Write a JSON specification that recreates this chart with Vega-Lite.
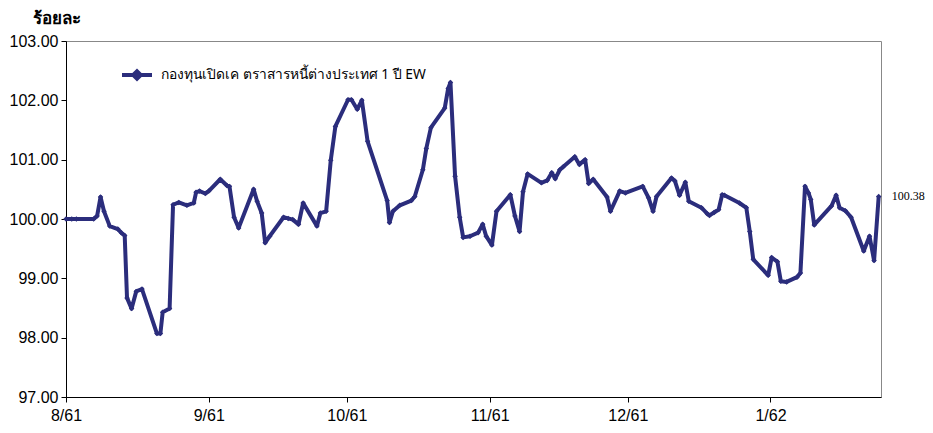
{
  "$schema": "https://vega.github.io/schema/vega-lite/v6.json",
  "autosize": "none",
  "width": 815,
  "height": 356,
  "padding": {"left": 66, "top": 41, "right": 52, "bottom": 36},
  "background": "white",
  "config": {
    "view": {"stroke": "#888888", "strokeWidth": 1},
    "font": "Liberation Sans"
  },
  "data": {
    "values": [
      {"date": "2018-08-01T00:00:00Z", "value": 100.00},
      {"date": "2018-08-02T06:00:00Z", "value": 100.00},
      {"date": "2018-08-03T06:00:00Z", "value": 100.00},
      {"date": "2018-08-07T00:00:00Z", "value": 100.00},
      {"date": "2018-08-07T18:00:00Z", "value": 100.05},
      {"date": "2018-08-08T12:00:00Z", "value": 100.37},
      {"date": "2018-08-09T06:00:00Z", "value": 100.13},
      {"date": "2018-08-10T12:00:00Z", "value": 99.88},
      {"date": "2018-08-12T06:00:00Z", "value": 99.83},
      {"date": "2018-08-13T00:00:00Z", "value": 99.77},
      {"date": "2018-08-13T18:00:00Z", "value": 99.72},
      {"date": "2018-08-14T06:00:00Z", "value": 98.67},
      {"date": "2018-08-15T06:00:00Z", "value": 98.49},
      {"date": "2018-08-16T06:00:00Z", "value": 98.78},
      {"date": "2018-08-17T12:00:00Z", "value": 98.82},
      {"date": "2018-08-20T18:00:00Z", "value": 98.07},
      {"date": "2018-08-21T12:00:00Z", "value": 98.07},
      {"date": "2018-08-22T00:00:00Z", "value": 98.43},
      {"date": "2018-08-23T12:00:00Z", "value": 98.49},
      {"date": "2018-08-24T06:00:00Z", "value": 100.24},
      {"date": "2018-08-25T12:00:00Z", "value": 100.28},
      {"date": "2018-08-27T06:00:00Z", "value": 100.23},
      {"date": "2018-08-28T18:00:00Z", "value": 100.27},
      {"date": "2018-08-29T06:00:00Z", "value": 100.45},
      {"date": "2018-08-30T00:00:00Z", "value": 100.47},
      {"date": "2018-08-31T06:00:00Z", "value": 100.43},
      {"date": "2018-09-01T00:00:00Z", "value": 100.47},
      {"date": "2018-09-03T12:00:00Z", "value": 100.67},
      {"date": "2018-09-05T00:00:00Z", "value": 100.56},
      {"date": "2018-09-05T12:00:00Z", "value": 100.55},
      {"date": "2018-09-06T12:00:00Z", "value": 100.03},
      {"date": "2018-09-07T12:00:00Z", "value": 99.85},
      {"date": "2018-09-10T18:00:00Z", "value": 100.50},
      {"date": "2018-09-11T12:00:00Z", "value": 100.30},
      {"date": "2018-09-12T12:00:00Z", "value": 100.10},
      {"date": "2018-09-13T06:00:00Z", "value": 99.60},
      {"date": "2018-09-14T06:00:00Z", "value": 99.71},
      {"date": "2018-09-17T06:00:00Z", "value": 100.03},
      {"date": "2018-09-18T06:00:00Z", "value": 100.01},
      {"date": "2018-09-19T06:00:00Z", "value": 99.99},
      {"date": "2018-09-20T12:00:00Z", "value": 99.91},
      {"date": "2018-09-21T12:00:00Z", "value": 100.27},
      {"date": "2018-09-24T12:00:00Z", "value": 99.88},
      {"date": "2018-09-25T06:00:00Z", "value": 100.10},
      {"date": "2018-09-26T12:00:00Z", "value": 100.13},
      {"date": "2018-09-27T12:00:00Z", "value": 100.99},
      {"date": "2018-09-28T12:00:00Z", "value": 101.56},
      {"date": "2018-10-01T06:00:00Z", "value": 102.01},
      {"date": "2018-10-02T00:00:00Z", "value": 102.01},
      {"date": "2018-10-03T06:00:00Z", "value": 101.85},
      {"date": "2018-10-04T06:00:00Z", "value": 102.00},
      {"date": "2018-10-05T12:00:00Z", "value": 101.31},
      {"date": "2018-10-09T18:00:00Z", "value": 100.31},
      {"date": "2018-10-10T06:00:00Z", "value": 99.94},
      {"date": "2018-10-11T00:00:00Z", "value": 100.13},
      {"date": "2018-10-12T12:00:00Z", "value": 100.23},
      {"date": "2018-10-15T00:00:00Z", "value": 100.31},
      {"date": "2018-10-15T18:00:00Z", "value": 100.38},
      {"date": "2018-10-17T12:00:00Z", "value": 100.83},
      {"date": "2018-10-18T06:00:00Z", "value": 101.19},
      {"date": "2018-10-19T06:00:00Z", "value": 101.54},
      {"date": "2018-10-22T06:00:00Z", "value": 101.87},
      {"date": "2018-10-23T00:00:00Z", "value": 102.20},
      {"date": "2018-10-23T12:00:00Z", "value": 102.30},
      {"date": "2018-10-24T12:00:00Z", "value": 100.72},
      {"date": "2018-10-25T12:00:00Z", "value": 100.03},
      {"date": "2018-10-26T06:00:00Z", "value": 99.69},
      {"date": "2018-10-27T18:00:00Z", "value": 99.71},
      {"date": "2018-10-29T12:00:00Z", "value": 99.77},
      {"date": "2018-10-30T12:00:00Z", "value": 99.91},
      {"date": "2018-10-31T06:00:00Z", "value": 99.71},
      {"date": "2018-11-01T12:00:00Z", "value": 99.56},
      {"date": "2018-11-02T12:00:00Z", "value": 100.13},
      {"date": "2018-11-05T12:00:00Z", "value": 100.41},
      {"date": "2018-11-06T12:00:00Z", "value": 100.05},
      {"date": "2018-11-07T12:00:00Z", "value": 99.79},
      {"date": "2018-11-08T06:00:00Z", "value": 100.46},
      {"date": "2018-11-09T06:00:00Z", "value": 100.76},
      {"date": "2018-11-12T06:00:00Z", "value": 100.61},
      {"date": "2018-11-13T12:00:00Z", "value": 100.65},
      {"date": "2018-11-14T12:00:00Z", "value": 100.78},
      {"date": "2018-11-15T06:00:00Z", "value": 100.68},
      {"date": "2018-11-16T06:00:00Z", "value": 100.83},
      {"date": "2018-11-17T00:00:00Z", "value": 100.88},
      {"date": "2018-11-19T12:00:00Z", "value": 101.05},
      {"date": "2018-11-20T12:00:00Z", "value": 100.92},
      {"date": "2018-11-21T18:00:00Z", "value": 101.00},
      {"date": "2018-11-22T12:00:00Z", "value": 100.60},
      {"date": "2018-11-23T12:00:00Z", "value": 100.67},
      {"date": "2018-11-26T12:00:00Z", "value": 100.37},
      {"date": "2018-11-27T06:00:00Z", "value": 100.13},
      {"date": "2018-11-29T06:00:00Z", "value": 100.47},
      {"date": "2018-11-30T12:00:00Z", "value": 100.44},
      {"date": "2018-12-04T06:00:00Z", "value": 100.55},
      {"date": "2018-12-05T12:00:00Z", "value": 100.36},
      {"date": "2018-12-06T12:00:00Z", "value": 100.13},
      {"date": "2018-12-07T06:00:00Z", "value": 100.38},
      {"date": "2018-12-10T12:00:00Z", "value": 100.69},
      {"date": "2018-12-11T06:00:00Z", "value": 100.64},
      {"date": "2018-12-12T06:00:00Z", "value": 100.40},
      {"date": "2018-12-13T12:00:00Z", "value": 100.62},
      {"date": "2018-12-14T06:00:00Z", "value": 100.30},
      {"date": "2018-12-17T00:00:00Z", "value": 100.19},
      {"date": "2018-12-18T06:00:00Z", "value": 100.09},
      {"date": "2018-12-18T18:00:00Z", "value": 100.06},
      {"date": "2018-12-19T18:00:00Z", "value": 100.11},
      {"date": "2018-12-20T18:00:00Z", "value": 100.16},
      {"date": "2018-12-21T12:00:00Z", "value": 100.41},
      {"date": "2018-12-22T00:00:00Z", "value": 100.40},
      {"date": "2018-12-25T06:00:00Z", "value": 100.27},
      {"date": "2018-12-26T18:00:00Z", "value": 100.19},
      {"date": "2018-12-27T12:00:00Z", "value": 99.79},
      {"date": "2018-12-28T06:00:00Z", "value": 99.32},
      {"date": "2018-12-31T12:00:00Z", "value": 99.05},
      {"date": "2019-01-01T06:00:00Z", "value": 99.35},
      {"date": "2019-01-02T12:00:00Z", "value": 99.28},
      {"date": "2019-01-03T06:00:00Z", "value": 98.95},
      {"date": "2019-01-04T12:00:00Z", "value": 98.94},
      {"date": "2019-01-06T18:00:00Z", "value": 99.02},
      {"date": "2019-01-07T12:00:00Z", "value": 99.09},
      {"date": "2019-01-08T12:00:00Z", "value": 100.55},
      {"date": "2019-01-09T06:00:00Z", "value": 100.44},
      {"date": "2019-01-09T18:00:00Z", "value": 100.33},
      {"date": "2019-01-10T12:00:00Z", "value": 99.90},
      {"date": "2019-01-14T06:00:00Z", "value": 100.22},
      {"date": "2019-01-15T06:00:00Z", "value": 100.40},
      {"date": "2019-01-16T00:00:00Z", "value": 100.19},
      {"date": "2019-01-17T06:00:00Z", "value": 100.14},
      {"date": "2019-01-18T12:00:00Z", "value": 100.03},
      {"date": "2019-01-21T06:00:00Z", "value": 99.46},
      {"date": "2019-01-22T12:00:00Z", "value": 99.71},
      {"date": "2019-01-23T12:00:00Z", "value": 99.30},
      {"date": "2019-01-24T12:00:00Z", "value": 100.38}
    ]
  },
  "encoding": {
    "x": {
      "field": "date",
      "type": "temporal",
      "scale": {
        "type": "utc",
        "domain": [
          {"year": 2018, "month": 8, "date": 1, "utc": true},
          {"year": 2019, "month": 1, "date": 25, "utc": true}
        ],
        "nice": false
      },
      "axis": {
        "title": null,
        "grid": false,
        "values": [
          {"year": 2018, "month": 8, "date": 1, "utc": true},
          {"year": 2018, "month": 9, "date": 1, "utc": true},
          {"year": 2018, "month": 10, "date": 1, "utc": true},
          {"year": 2018, "month": 11, "date": 1, "utc": true},
          {"year": 2018, "month": 12, "date": 1, "utc": true},
          {"year": 2019, "month": 1, "date": 1, "utc": true}
        ],
        "labelExpr": "(utcmonth(datum.value)+1) + '/' + ((utcyear(datum.value)+543)%100)",
        "labelFont": "Liberation Sans",
        "labelFontSize": 16,
        "labelColor": "#000000",
        "labelPadding": 5,
        "labelFlush": false,
        "labelOverlap": false,
        "tickSize": 5,
        "tickColor": "#000000",
        "domainColor": "#000000"
      }
    },
    "y": {
      "field": "value",
      "type": "quantitative",
      "scale": {"domain": [97, 103], "nice": false, "zero": false},
      "axis": {
        "title": "ร้อยละ",
        "titleAngle": 0,
        "titleX": -10,
        "titleY": -23,
        "titleAlign": "center",
        "titleBaseline": "middle",
        "titleFont": "Noto Sans",
        "titleFontSize": 17,
        "titleFontWeight": "bold",
        "titleColor": "#000000",
        "grid": false,
        "values": [97, 98, 99, 100, 101, 102, 103],
        "format": ".2f",
        "labelFont": "Liberation Sans",
        "labelFontSize": 16,
        "labelColor": "#000000",
        "labelPadding": 3,
        "labelFlush": false,
        "tickSize": 5,
        "tickColor": "#000000",
        "domainColor": "#000000"
      }
    }
  },
  "layer": [
    {
      "mark": {
        "type": "line",
        "strokeWidth": 4,
        "strokeJoin": "round",
        "point": {"shape": "diamond", "size": 30, "filled": true, "color": "#2b2d7c"}
      },
      "encoding": {
        "color": {
          "datum": "กองทุนเปิดเค ตราสารหนี้ต่างประเทศ 1 ปี EW",
          "scale": {"range": ["#2b2d7c"]},
          "legend": {
            "title": null,
            "orient": "none",
            "legendX": 54,
            "legendY": 17,
            "padding": 0,
            "symbolType": "M-1,0H1M-0.25,0L0,-0.25L0.25,0L0,0.25Z",
            "symbolSize": 900,
            "symbolStrokeWidth": 4,
            "symbolStrokeColor": "#2b2d7c",
            "symbolFillColor": "#2b2d7c",
            "labelFont": "Noto Sans",
            "labelFontSize": 13.8,
            "labelColor": "#000000",
            "labelOffset": 7,
            "labelLimit": 500
          }
        }
      }
    },
    {
      "transform": [{"filter": "utcyear(datum.date) == 2019 && utcdate(datum.date) == 24"}],
      "mark": {
        "type": "text",
        "align": "left",
        "baseline": "middle",
        "dx": 13,
        "font": "Liberation Serif",
        "fontSize": 12,
        "color": "#000000"
      },
      "encoding": {
        "text": {"field": "value", "type": "quantitative", "format": ".2f"}
      }
    }
  ]
}
